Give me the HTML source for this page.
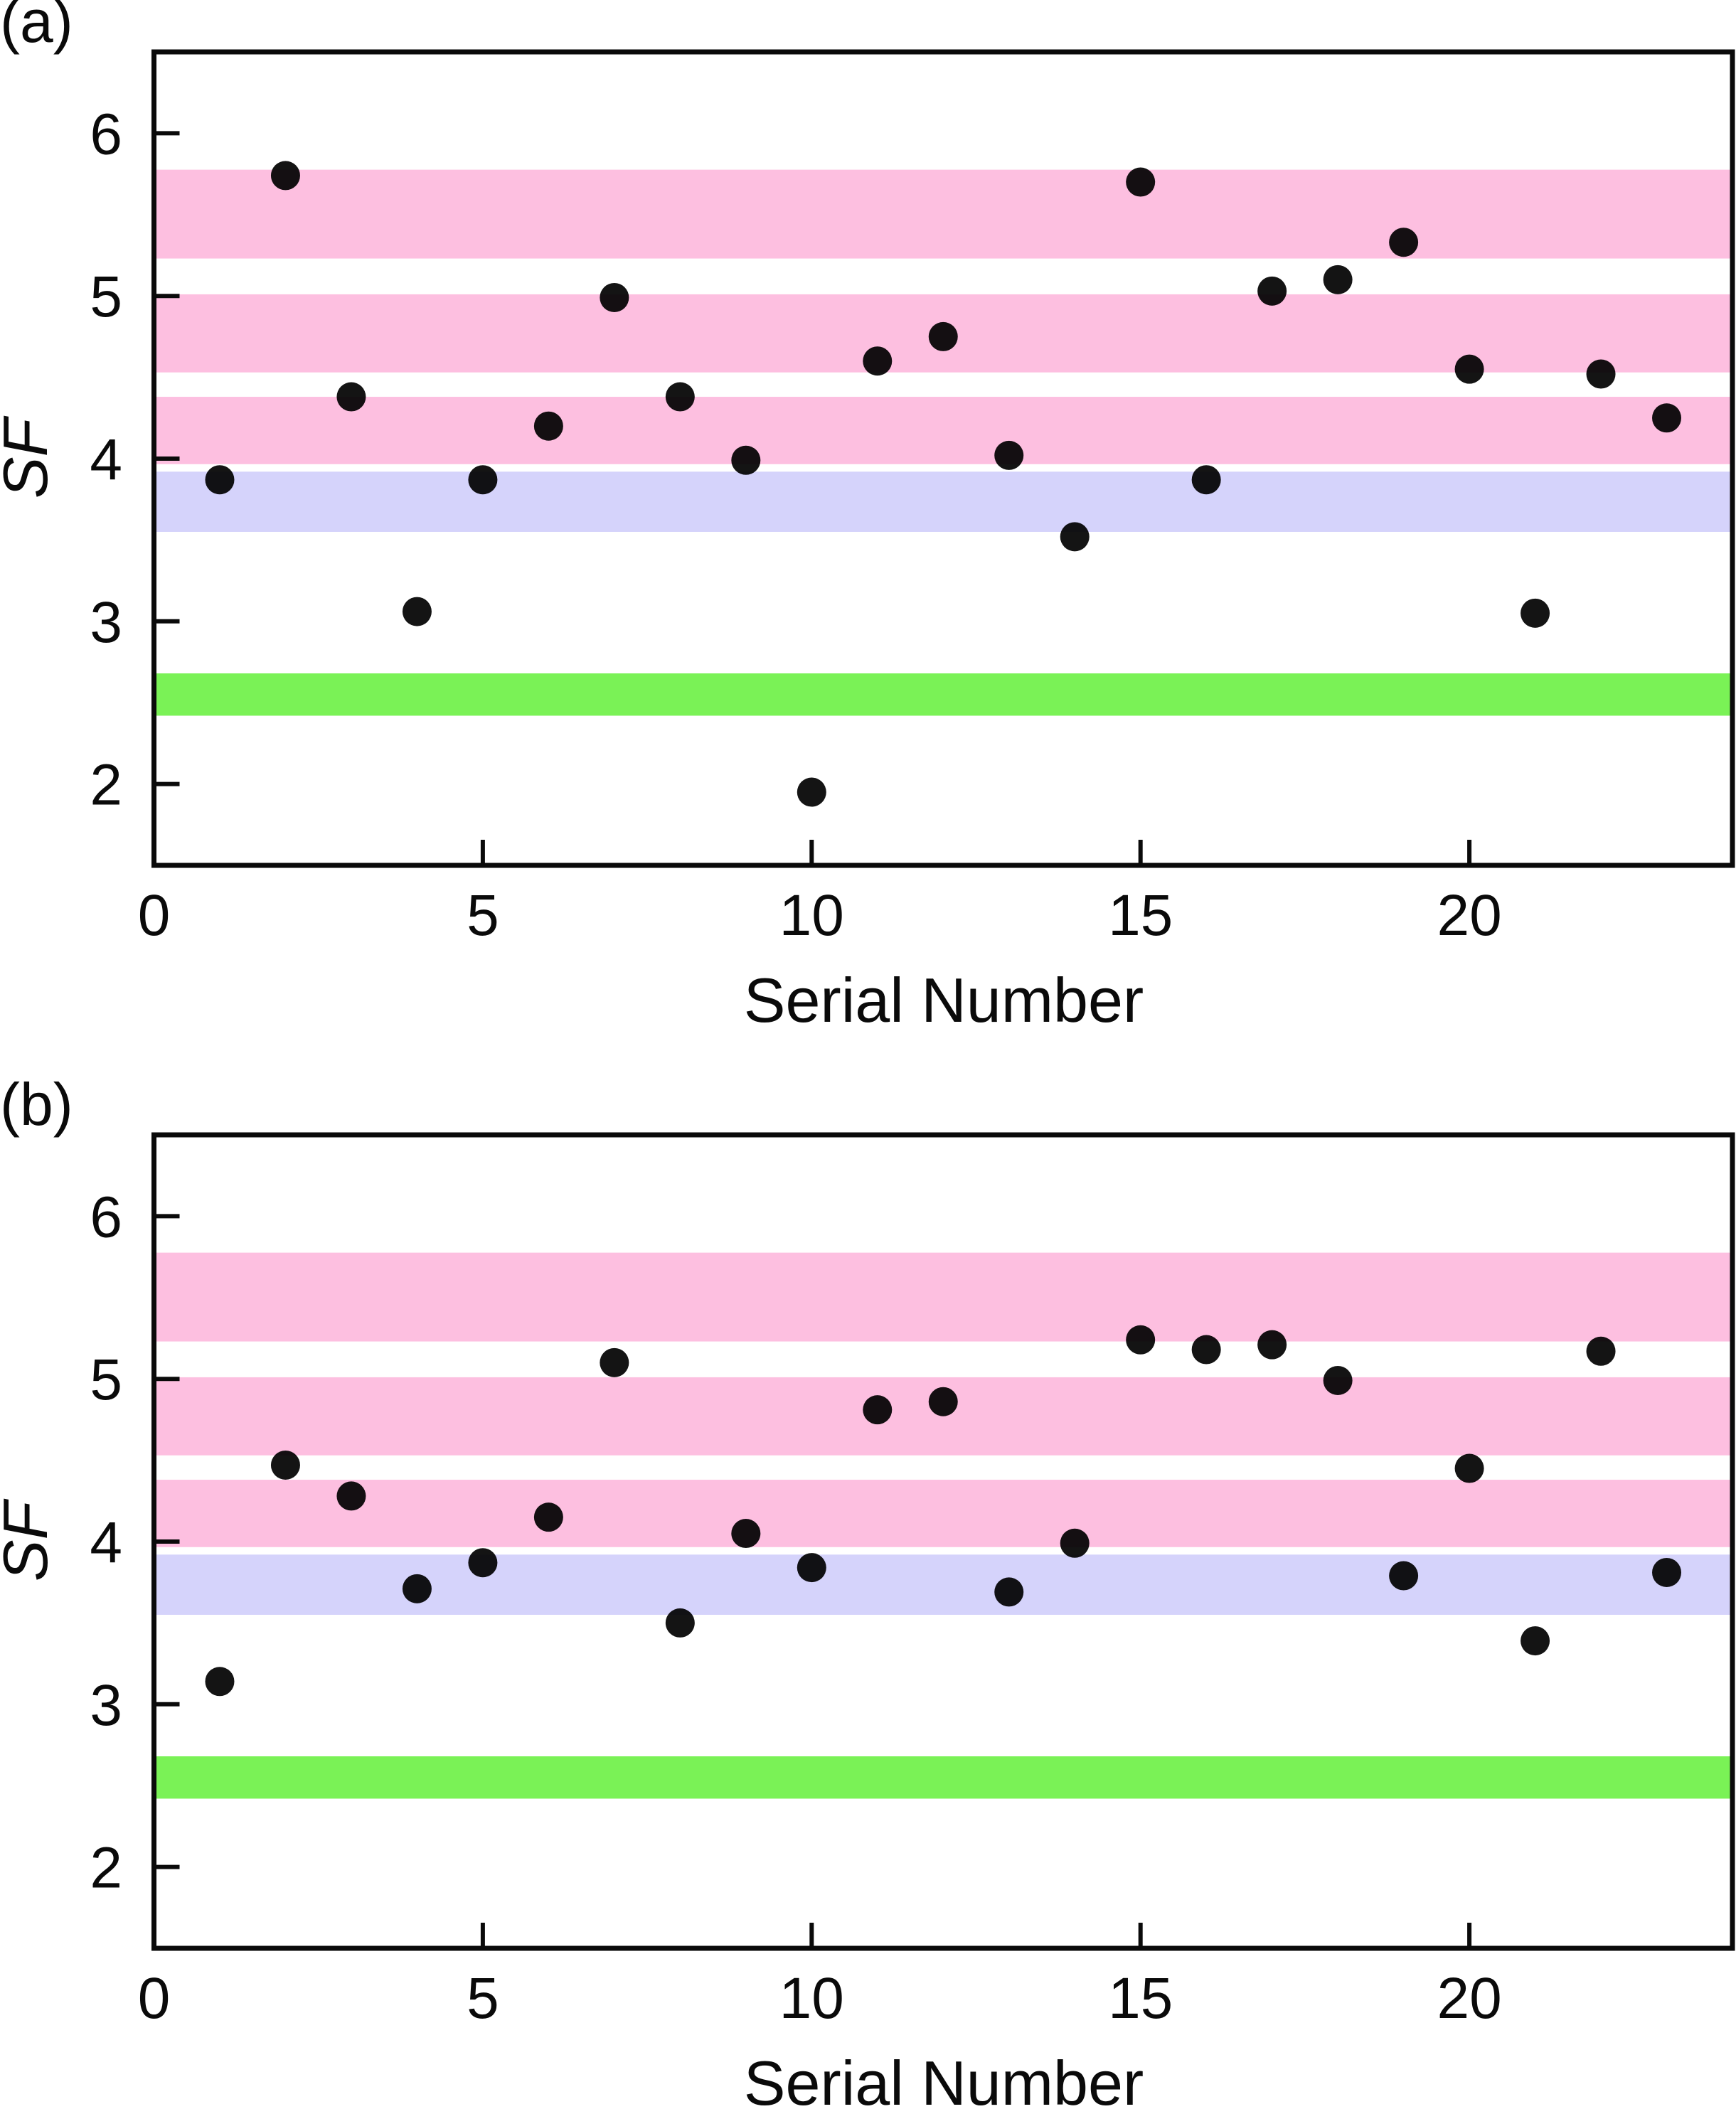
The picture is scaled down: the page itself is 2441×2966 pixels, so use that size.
<!DOCTYPE html>
<html><head><meta charset="utf-8"><style>
html,body{margin:0;padding:0;background:#fff;width:2441px;height:2966px;overflow:hidden}
svg{display:block}
text{font-family:"Liberation Sans",Arial,sans-serif;fill:#0a0a0a}
</style></head><body>
<svg id="fig" width="2441" height="2966" viewBox="0 0 2441 2966" xmlns="http://www.w3.org/2000/svg"></svg>
<script>
const serialA=[1,2,3,4,5,6,7,8,9,10,11,12,13,14,15,16,17,18,19,20,21,22,23];
const sfA=[3.87,5.74,4.38,3.06,3.87,4.20,4.99,4.38,3.99,1.95,4.60,4.75,4.02,3.52,5.70,3.87,5.03,5.10,5.33,4.55,3.05,4.52,4.25];
const serialB=[1,2,3,4,5,6,7,8,9,10,11,12,13,14,15,16,17,18,19,20,21,22,23];
const sfB=[3.14,4.47,4.28,3.71,3.87,4.15,5.10,3.50,4.05,3.84,4.81,4.86,3.69,3.99,5.24,5.18,5.21,4.99,3.79,4.45,3.39,5.17,3.81];
const bandLow=[5.23,4.53,3.966,3.55,2.42];
const bandHigh=[5.776,5.01,4.38,3.92,2.68];
const bandNames=['band-pink-top','band-pink-middle','band-pink-bottom','band-blue','band-green'];
const bandColors=['#fdbfe0','#fdbfe0','#fdbfe0','#d5d3fb','#7af256'];
const xTicks=[0,5,10,15,20];
const yTicks=[2,3,4,5,6];
const NS='http://www.w3.org/2000/svg';
const svg=document.getElementById('fig');
function mk(tag,attrs,parent){const e=document.createElementNS(NS,tag);for(const k in attrs)e.setAttribute(k,attrs[k]);(parent||svg).appendChild(e);return e;}
const L=216.5,R=2436,XMIN=0,XMAX=24,YMIN=1.5,YMAX=6.5,H=1144;
function drawPanel(top,label,xs,ys,pname){
  const g=mk('g',{});
  
  
  const B=top+H;
  const sx=v=>L+(v-XMIN)/(XMAX-XMIN)*(R-L);
  const sy=v=>B-(v-YMIN)/(YMAX-YMIN)*H;
  for(let i=0;i<bandLow.length;i++){
    const r=mk('rect',{x:L,y:sy(bandHigh[i]),width:R-L,height:sy(bandLow[i])-sy(bandHigh[i]),fill:bandColors[i]},g);
    
    
  }
  for(let i=0;i<xs.length;i++){
    const c=mk('circle',{cx:sx(xs[i]),cy:sy(ys[i]),r:20.5,fill:'#000','fill-opacity':0.92},g);
    
    
  }
  const ax=mk('rect',{x:L,y:top,width:R-L,height:H,fill:'none',stroke:'#0a0a0a','stroke-width':7},g);
  
  
  for(const t of yTicks){
    mk('line',{x1:L,x2:L+36,y1:sy(t),y2:sy(t),stroke:'#0a0a0a','stroke-width':6},g);
    const tx=mk('text',{x:172,y:sy(t)+29,'font-size':82,'text-anchor':'end'},g);
    tx.textContent=t;
    
    
  }
  for(const t of xTicks){
    mk('line',{x1:sx(t),x2:sx(t),y1:B,y2:B-36,stroke:'#0a0a0a','stroke-width':6},g);
    const tx=mk('text',{x:sx(t),y:B+98,'font-size':82,'text-anchor':'middle'},g);
    tx.textContent=t;
    
    
  }
  const xl=mk('text',{x:1327,y:B+220,'font-size':88,'text-anchor':'middle'},g);
  xl.textContent='Serial Number';
  
  
  const yl=mk('text',{x:0,y:0,'font-size':88,'font-style':'italic','text-anchor':'middle',transform:'translate(66,'+(top+572)+') rotate(-90)'},g);
  yl.textContent='SF';
  
  
  const pl=mk('text',{x:0,y:top-14,'font-size':84},g);
  pl.textContent=label;
  
  
}
drawPanel(73,'(a)',serialA,sfA,'panel-a');
drawPanel(1596,'(b)',serialB,sfB,'panel-b');
</script>
</body></html>
